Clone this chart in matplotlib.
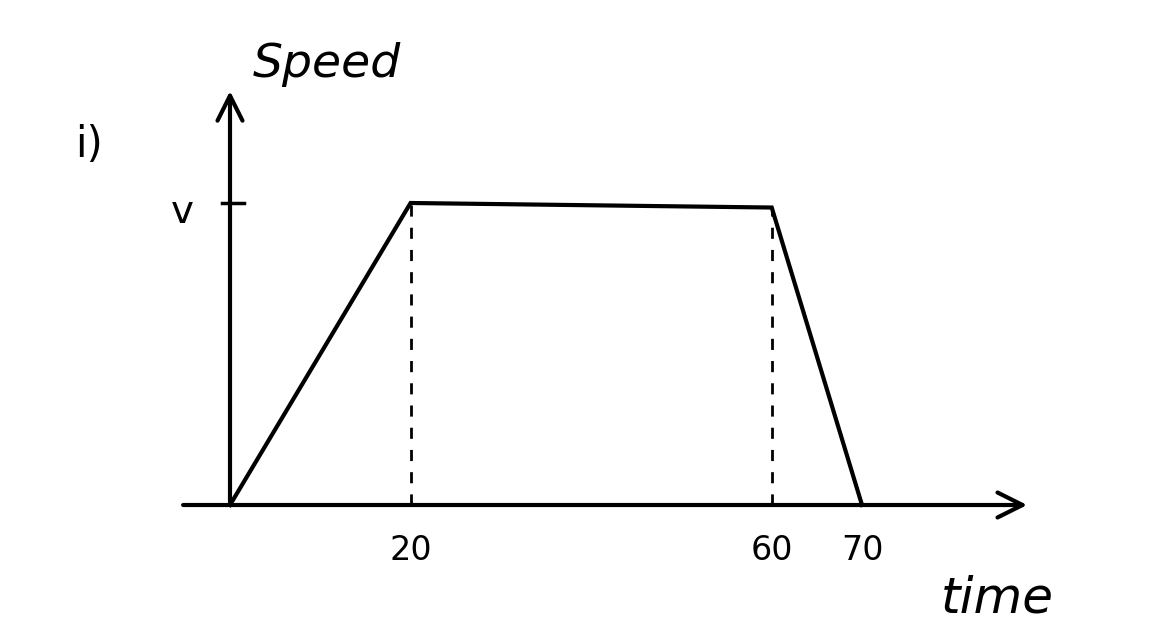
import matplotlib.pyplot as plt

# speed-time sketch
time = [0, 20, 60, 70]
speed = [0, 1, 0.985, 0]
tick_times = [20, 60, 70]
tick_labels = ["20", "60", "70"]

W, H = 1150, 639
fig = plt.figure(figsize=(W / 100, H / 100), dpi=100)
fig.patch.set_facecolor("white")

# axes placed so that t=0 sits at the drawn origin
ax = fig.add_axes([230 / W, (H - 505) / H, 632 / W, 302 / H])
ax.set_xlim(0, 70)
ax.set_ylim(0, 1)
ax.axis("off")

ink = "black"
ax.plot(time, speed, color=ink, lw=3, clip_on=False, solid_joinstyle="miter")

# dashed drop lines
for t, s in zip(time[1:3], speed[1:3]):
    ax.plot([t, t], [0, s], color=ink, lw=2, ls=(0, (4, 4)), clip_on=False)

# axes with open arrowheads
arrow = dict(arrowstyle="->,head_length=1.8,head_width=0.9", color=ink, lw=3)
ax.annotate("", xy=(88.6, 0), xytext=(-5.5, 0), arrowprops=arrow, annotation_clip=False)
ax.annotate("", xy=(0, 1.38), xytext=(0, 0), arrowprops=arrow, annotation_clip=False)

# v tick
ax.plot([-0.9, 1.6], [1, 1], color=ink, lw=2.5, clip_on=False)
ax.text(-5.3, 0.97, "v", fontsize=28, ha="center", va="center")

for t, lab in zip(tick_times, tick_labels):
    ax.text(t, -0.15, lab, fontsize=24, ha="center", va="center")

ax.text(85, -0.31, "time", fontsize=36, ha="center", va="center", style="italic")
ax.text(2.5, 1.46, "Speed", fontsize=34, ha="left", va="center", style="italic")
fig.text(75 / W, 1 - 145 / H, "i)", fontsize=30, ha="left", va="center")

fig.savefig("out.png", dpi=100)
